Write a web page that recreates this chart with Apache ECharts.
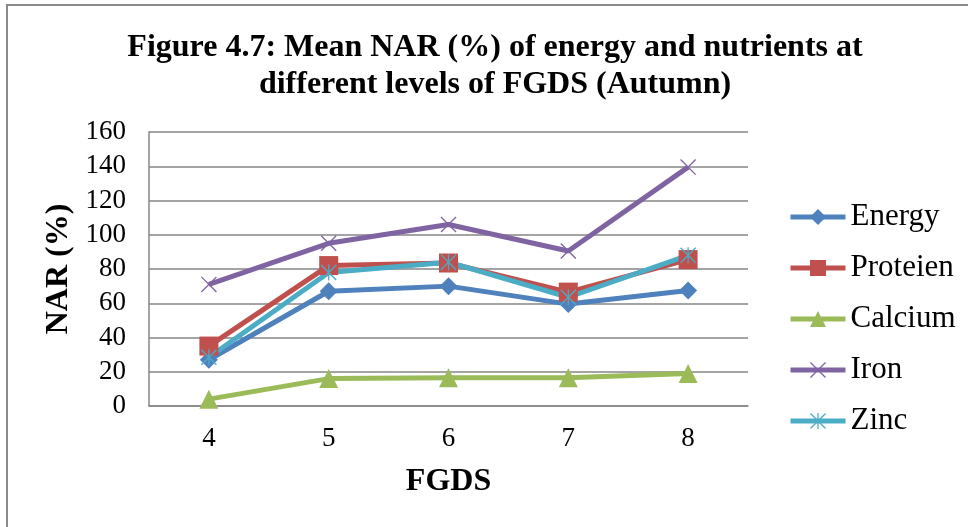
<!DOCTYPE html>
<html>
<head>
<meta charset="utf-8">
<script src="https://cdn.jsdelivr.net/npm/echarts@6/dist/echarts.min.js"></script>
<style>
html,body{margin:0;padding:0;background:#fff;}
#c{width:968px;height:527px;}
</style>
</head>
<body>
<div id="c"></div>
<script>
var categories = ['4', '5', '6', '7', '8'];
var energy   = [27, 67, 70, 59.5, 67.5];
var proteien = [35, 82, 83.5, 66.5, 85.5];
var calcium  = [4, 16, 16.5, 16.5, 19];
var iron     = [71, 95, 106, 90.5, 139.5];
var zinc     = [28.5, 78, 84, 63.5, 88];

var crossPath = 'path://M0,6L6,0L100,94L94,100Z M94,0L100,6L6,100L0,94Z';
var starPath = 'path://M0,6L6,0L100,94L94,100Z M94,0L100,6L6,100L0,94Z M46,0L54,0L54,100L46,100Z';

var FONT = '"Liberation Serif", "Times New Roman", serif';

function mk(name, data, color, symbol, size) {
  return {
    name: name,
    type: 'line',
    data: data,
    symbol: symbol,
    symbolSize: size,
    showAllSymbol: true,
    lineStyle: { width: 5, color: color },
    itemStyle: { color: color },
    z: 3
  };
}

var chart = echarts.init(document.getElementById('c'));
chart.setOption({
  backgroundColor: '#fff',
  animation: false,
  graphic: [{
    type: 'rect',
    shape: { x: 7, y: 5, width: 1000, height: 600 },
    style: { fill: 'none', stroke: '#8a8a8a', lineWidth: 2 },
    z: -1
  }],
  title: {
    text: 'Figure 4.7: Mean NAR (%) of energy and nutrients at\ndifferent levels of FGDS (Autumn)',
    left: 490,
    top: 24,
    textAlign: 'center',
    textStyle: {
      fontFamily: FONT,
      fontWeight: 'bold',
      fontSize: 32,
      lineHeight: 37,
      color: '#000'
    }
  },
  legend: {
    orient: 'vertical',
    left: 783,
    top: 196,
    itemWidth: 55,
    itemHeight: 20,
    itemGap: 19,
    lineStyle: { width: 5 },
    textStyle: { fontFamily: FONT, fontSize: 31, color: '#000', lineHeight: 32 },
    data: ['Energy', 'Proteien', 'Calcium', 'Iron', 'Zinc']
  },
  grid: { left: 149, right: 220, top: 132, bottom: 121, containLabel: false },
  xAxis: {
    type: 'category',
    data: categories,
    boundaryGap: true,
    name: 'FGDS',
    nameLocation: 'middle',
    nameGap: 60,
    nameTextStyle: { fontFamily: FONT, fontWeight: 'bold', fontSize: 32, color: '#000' },
    axisLine: { lineStyle: { color: '#868686', width: 1.5 } },
    axisTick: { show: false },
    axisLabel: { fontFamily: FONT, fontSize: 27, color: '#000', margin: 19 }
  },
  yAxis: {
    type: 'value',
    min: 0,
    max: 160,
    interval: 20,
    name: 'NAR (%)',
    nameLocation: 'middle',
    nameGap: 67,
    nameRotate: 90,
    nameTextStyle: { fontFamily: FONT, fontWeight: 'bold', fontSize: 32, color: '#000' },
    axisLine: { show: true, lineStyle: { color: '#868686', width: 1.5 } },
    axisTick: { show: false },
    splitLine: { lineStyle: { color: '#868686', width: 1.5 } },
    axisLabel: { fontFamily: FONT, fontSize: 27, color: '#000', margin: 23 }
  },
  series: [
    mk('Energy', energy, '#4F81BD', 'diamond', 18),
    mk('Proteien', proteien, '#C0504D', 'rect', 19),
    mk('Calcium', calcium, '#9BBB59', 'triangle', 19),
    mk('Iron', iron, '#8064A2', crossPath, 16),
    mk('Zinc', zinc, '#4BACC6', starPath, 16)
  ]
});
</script>
</body>
</html>
